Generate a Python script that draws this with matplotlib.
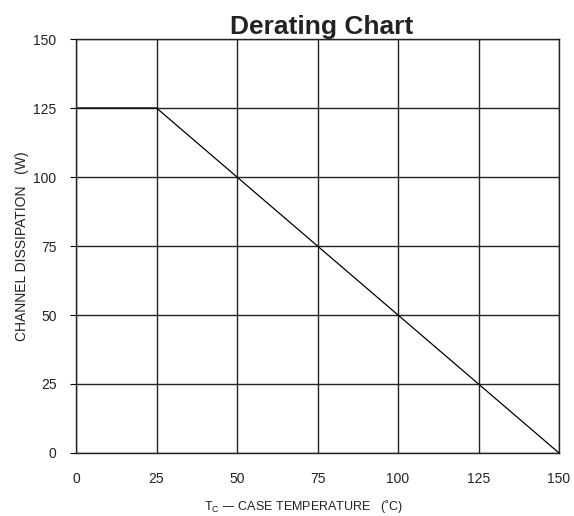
import matplotlib
matplotlib.use("Agg")
import matplotlib.pyplot as plt

plt.rcParams["font.family"] = ["Liberation Sans", "DejaVu Sans"]

# derating curve: case temperature (C) vs channel dissipation (W)
temp_c = [0, 25, 150]
power_w = [125, 125, 0]

x_ticks = [0, 25, 50, 75, 100, 125, 150]
y_ticks = [0, 25, 50, 75, 100, 125, 150]

fig = plt.figure(figsize=(5.74, 5.16), dpi=100)
ax = fig.add_axes([0.1324, 0.1221, 0.8415, 0.8023])

ax.plot(temp_c, power_w, color="black", lw=0.9, zorder=3)

ax.set_xlim(0, 150)
ax.set_ylim(0, 150)
ax.set_xticks(x_ticks)
ax.set_yticks(y_ticks)
ax.grid(True, color="#222222", lw=1.0)
for s in ax.spines.values():
    s.set_color("#222222")
    s.set_linewidth(1.0)

ax.tick_params(axis="x", length=0, pad=14, labelsize=10, labelcolor="#222222")
ax.tick_params(axis="y", length=4, width=0.8, pad=10, labelsize=10,
               labelcolor="#222222")

ax.set_xlabel(r"T$_\mathregular{C}$ — CASE TEMPERATURE   (˚C)", fontsize=9,
              labelpad=8, x=0.471, color="#222222")
ax.set_ylabel("CHANNEL DISSIPATION   (W)", fontsize=10, labelpad=3,
              color="#222222")
ax.set_title("Derating Chart", fontsize=19, fontweight="bold", pad=3, x=0.509,
             color="#222222")

fig.savefig("out.png", dpi=100)
